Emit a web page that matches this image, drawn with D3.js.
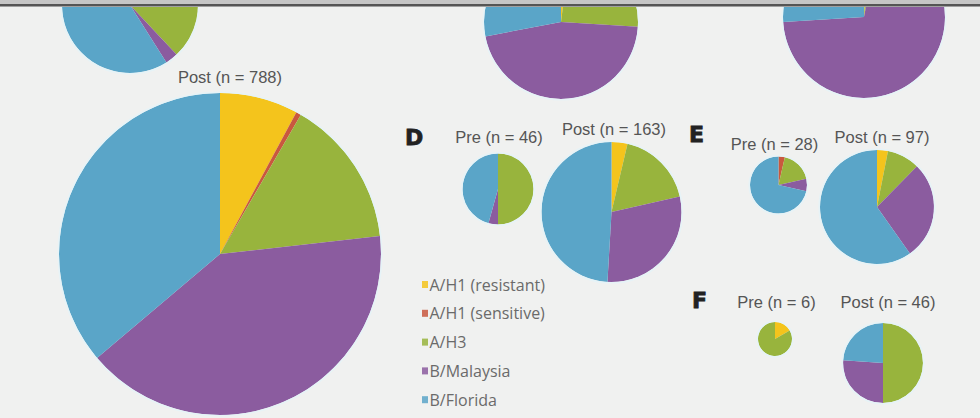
<!DOCTYPE html>
<html>
<head>
<meta charset="utf-8">
<script src="https://cdn.jsdelivr.net/npm/d3@7"></script>
<style>
  html, body { margin: 0; padding: 0; background: #f0f1f0; }
  svg { display: block; }
</style>
</head>
<body>
<svg id="chart" width="980" height="418"></svg>
<script>
// ---- DATA ----
const categories = ["A/H1 (resistant)", "A/H1 (sensitive)", "A/H3", "B/Malaysia", "B/Florida"];
// counts per category (order as categories); top partial pies are estimated shares (%)
const topLeftPre   = [0, 0, 38, 3, 59];
const topMidPost   = [2, 0, 24, 46, 28];
const topRightPost = [1, 0, 2, 71, 26];
const aPost = [62, 4, 117, 320, 285];
const dPre  = [0, 0, 23, 2, 21];
const dPost = [6, 0, 29, 48, 80];
const ePre  = [0, 1, 5, 2, 20];
const ePost = [3, 0, 9, 27, 58];
const fPre  = [1, 0, 5, 0, 0];
const fPost = [0, 0, 23, 12, 11];
const pieLabels = ["", "", "", "Post (n = 788)", "Pre (n = 46)", "Post (n = 163)",
                   "Pre (n = 28)", "Post (n = 97)", "Pre (n = 6)", "Post (n = 46)"];
const panelLetters = ["D", "E", "F"];

// ---- STYLE / LAYOUT ----
const colors = ["#f4c41c", "#c9583e", "#98b43d", "#8b5c9f", "#5aa5c8"];
const pieSeries = [topLeftPre, topMidPost, topRightPost, aPost, dPre, dPost, ePre, ePost, fPre, fPost];
const pieLayout = [
  {cx: 130, cy: 5,   r: 68},
  {cx: 561, cy: 22,  r: 77},
  {cx: 864, cy: 17,  r: 81},
  {cx: 220, cy: 254, r: 161, lx: 230, ly: 83},
  {cx: 498, cy: 189, r: 35.5, lx: 499, ly: 143},
  {cx: 611.5, cy: 212, r: 70, lx: 614, ly: 135},
  {cx: 778.5, cy: 185, r: 28.5, lx: 774.5, ly: 150},
  {cx: 877, cy: 207, r: 57, lx: 882, ly: 143},
  {cx: 775, cy: 339, r: 17, lx: 776.5, ly: 308},
  {cx: 883, cy: 363, r: 40, lx: 888, ly: 308}
];
const letterLayout = [{x: 405, y: 145}, {x: 689, y: 142}, {x: 692, y: 308}];

const svg = d3.select("#chart");
const color = d3.scaleOrdinal().domain(categories).range(colors);
const pie = d3.pie().sort(null).value(d => d.v);

svg.append("rect").attr("width", 980).attr("height", 418).attr("fill", "#f0f1f0");

pieSeries.forEach((vals, i) => {
  const L = pieLayout[i];
  const g = svg.append("g").attr("transform", `translate(${L.cx},${L.cy})`);
  const arc = d3.arc().innerRadius(0).outerRadius(L.r);
  const data = vals.map((v, k) => ({c: categories[k], v}));
  g.selectAll("path").data(pie(data).filter(d => d.data.v > 0)).join("path")
    .attr("d", arc).attr("fill", d => color(d.data.c));
  g.append("circle").attr("r", L.r + 0.8).attr("fill", "none")
    .attr("stroke", "#e6f3f7").attr("stroke-width", 1.6);
  if (pieLabels[i]) {
    svg.append("text").attr("x", L.lx).attr("y", L.ly)
      .attr("text-anchor", "middle")
      .attr("font-family", "Liberation Sans, Arial, sans-serif")
      .attr("font-size", 16.5).attr("fill", "#555")
      .text(pieLabels[i]);
  }
});

panelLetters.forEach((t, i) => {
  svg.append("text").attr("x", letterLayout[i].x).attr("y", letterLayout[i].y)
    .attr("font-family", "DejaVu Sans, sans-serif").attr("font-weight", "bold")
    .attr("font-size", 22).attr("fill", "#222").attr("stroke", "#222").attr("stroke-width", 0.8)
    .text(t);
});

// legend
const legend = svg.append("g").attr("transform", "translate(422,284.5)");
const rows = legend.selectAll("g").data(categories).join("g")
  .attr("transform", (d, i) => `translate(0,${i * 28.8})`);
rows.append("rect").attr("x", 0).attr("y", -3.5).attr("width", 6).attr("height", 7)
  .attr("fill", d => color(d)).attr("opacity", 0.85);
rows.append("text").attr("x", 7.5).attr("y", 6)
  .attr("font-family", "Open Sans, sans-serif").attr("font-size", 16).attr("fill", "#6a6a6a")
  .text(d => d);

// top frame
svg.append("rect").attr("x", 0).attr("y", 0).attr("width", 980).attr("height", 4).attr("fill", "#c6c6c6");
svg.append("rect").attr("x", 0).attr("y", 4).attr("width", 980).attr("height", 2).attr("fill", "#555");
svg.append("rect").attr("x", 0).attr("y", 6).attr("width", 980).attr("height", 1).attr("fill", "#a0a0a0");
</script>
</body>
</html>
